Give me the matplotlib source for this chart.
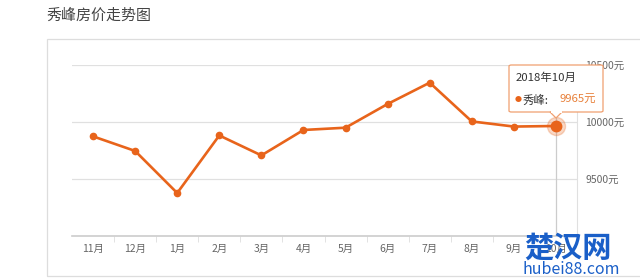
"""
秀峰房价走势图 - recreation.
"""

import matplotlib
matplotlib.use("Agg")
import matplotlib.pyplot as plt
from matplotlib.patches import Rectangle, FancyBboxPatch, Polygon

plt.rcParams['font.family'] = ['Noto Sans CJK SC', 'DejaVu Sans']

# 数据
months = ['11月', '12月', '1月', '2月', '3月', '4月', '5月', '6月', '7月', '8月', '9月', '10月']
prices = [9874, 9746, 9377, 9882, 9707, 9930, 9950, 10158, 10345, 10005, 9960, 9965]
y_ticks = [9500, 10000, 10500]
y_labels = ['9500元', '10000元', '10500元']
title = '秀峰房价走势图'
tip_title = '2018年10月'
tip_name = '秀峰:'
tip_value = '9965元'

orange = '#e8641b'
grid_c = '#e0e0e0'
text_c = '#666666'

fig = plt.figure(figsize=(6.4, 2.79), dpi=100)
W, H = 640, 279

def fx(px):
    return px / W

def fy(py):
    return 1 - py / H

# 标题和外框
fig.text(fx(47), fy(16), title, fontsize=10.8, color='#444444', va='center', ha='left')
fig.patches.append(Rectangle((fx(47), fy(276)), fx(640 - 47) + 0.01, fy(39) - fy(276),
                             transform=fig.transFigure, fill=False,
                             edgecolor='#dddddd', linewidth=0.9))

ax = fig.add_axes([fx(72), fy(236), fx(577 - 72), fy(65) - fy(236)])
x = list(range(len(months)))
ax.set_xlim(-0.5, len(months) - 0.5)
ax.set_ylim(9000, 10500)

for v in y_ticks:
    ax.axhline(v, color=grid_c, linewidth=0.9, zorder=0)

for s in ['left', 'top']:
    ax.spines[s].set_visible(False)
ax.spines['right'].set_color(grid_c)
ax.spines['bottom'].set_color('#cccccc')
ax.spines['bottom'].set_linewidth(1.2)

ax.set_xticks(x)
ax.set_xticklabels(months, fontsize=7.5, color=text_c)
ax.tick_params(axis='x', length=0, pad=6)
ax.set_xticks([i - 0.5 for i in range(1, len(months))], minor=True)
ax.tick_params(axis='x', which='minor', length=4, color='#dddddd')

ax.yaxis.tick_right()
ax.set_yticks(y_ticks)
ax.set_yticklabels(y_labels, fontsize=7.5, color=text_c)
ax.tick_params(axis='y', length=0, pad=6)

# 鼠标悬停竖线
ax.axvline(x[-1], ymin=0, ymax=(10430 - 9000) / 1500, color='#cccccc', linewidth=0.9, zorder=1)

ax.plot(x, prices, color=orange, linewidth=1.9, marker='o', markersize=4.5, zorder=3)
ax.plot(x[-1], prices[-1], 'o', color=orange, markersize=13, alpha=0.25, zorder=2)
ax.plot(x[-1], prices[-1], 'o', color=orange, markersize=7.5, zorder=4)

# 提示框
bx0, by0, bx1, by1 = 509, 65, 603, 112
fig.patches.append(FancyBboxPatch((fx(bx0), fy(by1)), fx(bx1 - bx0), fy(by0) - fy(by1),
                                  boxstyle='round,pad=0,rounding_size=0.004',
                                  transform=fig.transFigure, facecolor='white',
                                  edgecolor='#f0a070', linewidth=0.9, zorder=5))
fig.patches.append(Polygon([(fx(550), fy(112)), (fx(556), fy(118)), (fx(562), fy(112))],
                           closed=True, transform=fig.transFigure, facecolor='white',
                           edgecolor='#f0a070', linewidth=0.9, zorder=5))
fig.patches.append(Rectangle((fx(550.5), fy(113)), fx(11), fy(111) - fy(113),
                             transform=fig.transFigure, facecolor='white',
                             edgecolor='none', zorder=6))
fig.text(fx(516), fy(78), tip_title, fontsize=8.2, color='#333333', va='center', zorder=7)
fig.text(fx(515), fy(100), '●', fontsize=5, color=orange, va='center', zorder=7)
fig.text(fx(523), fy(100), tip_name, fontsize=8.2, color='#333333', va='center', zorder=7)
fig.text(fx(559), fy(100), tip_value, fontsize=8.2, color='#e8803a', va='center', zorder=7)

# 水印
fig.text(fx(524), fy(248), '楚汉网', fontsize=21, fontweight='bold', color='#1a5fc8',
         va='center', ha='left', zorder=8)
fig.text(fx(522), fy(270), 'hubei88.com', fontsize=11.5, color='#1a5fc8',
         va='center', ha='left', zorder=8)

plt.savefig('out.png', dpi=100)
